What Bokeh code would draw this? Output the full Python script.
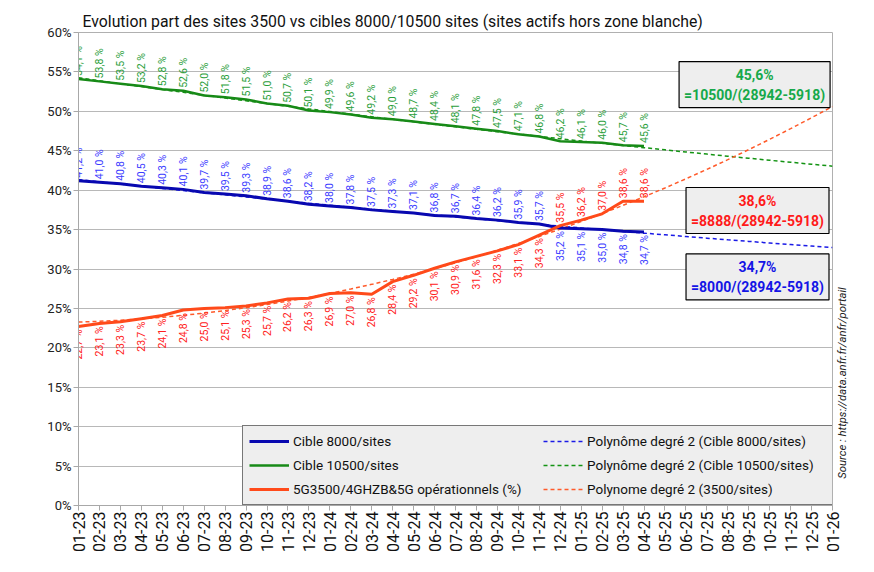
import math
import numpy as np
from bokeh.plotting import figure
from bokeh.models import Range1d, FixedTicker, Legend, LegendItem, Label, LinearAxis
from bokeh.core.properties import value
from bokeh.embed import file_html
from bokeh.resources import INLINE

# ---------------- data ----------------
months = ["01-23", "02-23", "03-23", "04-23", "05-23", "06-23", "07-23", "08-23",
          "09-23", "10-23", "11-23", "12-23", "01-24", "02-24", "03-24", "04-24",
          "05-24", "06-24", "07-24", "08-24", "09-24", "10-24", "11-24", "12-24",
          "01-25", "02-25", "03-25", "04-25", "05-25", "06-25", "07-25", "08-25",
          "09-25", "10-25", "11-25", "12-25", "01-26"]

cible_8000 = [41.2, 41.0, 40.8, 40.5, 40.3, 40.1, 39.7, 39.5, 39.3, 38.9, 38.6, 38.2,
              38.0, 37.8, 37.5, 37.3, 37.1, 36.8, 36.7, 36.4, 36.2, 35.9, 35.7, 35.2,
              35.1, 35.0, 34.8, 34.7]
cible_10500 = [54.1, 53.8, 53.5, 53.2, 52.8, 52.6, 52.0, 51.8, 51.5, 51.0, 50.7, 50.1,
               49.9, 49.6, 49.2, 49.0, 48.7, 48.4, 48.1, 47.8, 47.5, 47.1, 46.8, 46.2,
               46.1, 46.0, 45.7, 45.6]
sites_3500 = [22.7, 23.1, 23.3, 23.7, 24.1, 24.8, 25.0, 25.1, 25.3, 25.7, 26.2, 26.3,
              26.9, 27.0, 26.8, 28.4, 29.2, 30.1, 30.9, 31.6, 32.3, 33.1, 34.3, 35.5,
              36.2, 37.0, 38.6, 38.6]

y_ticks = [0, 5, 10, 15, 20, 25, 30, 35, 40, 45, 50, 55, 60]

title_text = "Evolution part des sites 3500 vs cibles 8000/10500 sites (sites actifs hors zone blanche)"
source_text = "Source : https://data.anfr.fr/anfr/portail"
box_green = "45,6%\n=10500/(28942-5918)"
box_red = "38,6%\n=8888/(28942-5918)"
box_blue = "34,7%\n=8000/(28942-5918)"

# ---------------- style ----------------
FONT = "Roboto"
C_BLUE, C_BLUE_LBL, C_BLUE_D = "#0808b0", "#3b3bff", "#1a1ae6"
C_GREEN, C_GREEN_LBL, C_GREEN_D, C_GREEN_BOX = "#178a17", "#2a9e3a", "#139313", "#16a94a"
C_RED, C_RED_LBL, C_RED_D, C_RED_BOX = "#ff4a1a", "#ff2020", "#ff5a2a", "#ff1a1a"
C_BOX_BLUE = "#1414e6"
SOURCE_POS = 3.4   # where the source note starts, in axis units

n_data = len(cible_8000)
x_data = np.arange(n_data)
x_all = np.arange(len(months))

def trend(vals):
    coeffs = np.polyfit(x_data, np.array(vals), 2)
    return np.polyval(coeffs, x_all)

p = figure(width=858, height=556, x_range=Range1d(0, len(months) - 1), y_range=Range1d(0, 60),
           output_backend="svg", toolbar_location=None,
           min_border_left=78, min_border_right=26, min_border_top=32, min_border_bottom=51)
p.background_fill_color = "white"
p.outline_line_color = "#b0b0b0"

# title
p.title.text = title_text
p.title.align = "left"
p.title.offset = 4
p.title.standoff = 3
p.title.text_font = FONT
p.title.text_font_size = "15.8px"
p.title.text_font_style = "normal"
p.title.text_color = "#111111"

# axes
p.xaxis.ticker = FixedTicker(ticks=list(x_all))
p.xaxis.major_label_overrides = {int(i): m for i, m in zip(x_all, months)}
p.xaxis.major_label_orientation = math.pi / 2
p.xaxis.major_label_text_font = FONT
p.xaxis.major_label_text_font_size = "16px"
p.xaxis.major_label_text_color = "#111111"
p.xaxis.major_label_standoff = 1
p.yaxis.ticker = FixedTicker(ticks=y_ticks)
p.yaxis.major_label_overrides = {t: f"{t}%" for t in y_ticks}
p.yaxis.major_label_text_font = FONT
p.yaxis.major_label_text_font_size = "13px"
p.yaxis.major_label_text_color = "#222222"
p.yaxis.major_label_standoff = 2
for ax in (p.xaxis, p.yaxis):
    ax.axis_line_color = "#a8a8a8"
    ax.major_tick_line_color = "#a8a8a8"
    ax.major_tick_out = 5
    ax.major_tick_in = 0
    ax.minor_tick_line_color = None
p.xgrid.grid_line_color = None
p.ygrid.grid_line_color = "#b8b8b8"
p.ygrid.grid_line_width = 1

# source note: a bare right-side axis whose single tick label carries the text
src_axis = LinearAxis(ticker=FixedTicker(ticks=[SOURCE_POS]),
                      major_label_overrides={SOURCE_POS: source_text},
                      major_label_orientation=math.pi / 2,
                      axis_line_color=None, major_tick_line_color=None, minor_tick_line_color=None,
                      major_tick_out=0, major_tick_in=0, major_label_standoff=10,
                      major_label_text_font=FONT, major_label_text_font_size="11.3px",
                      major_label_text_font_style="italic", major_label_text_color="#222222")
p.add_layout(src_axis, "right")

# trend lines
rb_d = p.line(x_all, trend(cible_8000), line_color=C_BLUE_D, line_width=1.5, line_dash="4 3")
rg_d = p.line(x_all, trend(cible_10500), line_color=C_GREEN_D, line_width=1.5, line_dash="4 3")
rr_d = p.line(x_all, trend(sites_3500), line_color=C_RED_D, line_width=1.5, line_dash="4 3")

# series
rb = p.line(x_data, cible_8000, line_color=C_BLUE, line_width=3)
rg = p.line(x_data, cible_10500, line_color=C_GREEN, line_width=2.5)
rr = p.line(x_data, sites_3500, line_color=C_RED, line_width=3)

# data labels
SPLIT = 23
def fmt(v):
    return f"{v:.1f}".replace(".", ",") + " %"

def labels(vals, color, above_idx):
    for above in (True, False):
        idx = [i for i in range(len(vals)) if (i in above_idx) == above]
        if not idx:
            continue
        p.text(x=[int(i) for i in idx], y=[vals[i] for i in idx], text=[fmt(vals[i]) for i in idx],
               angle=math.pi / 2, text_align="left" if above else "right",
               text_baseline="middle", y_offset=-3 if above else 3,
               text_font=value(FONT), text_font_size="10.5px", text_color=color)

labels(cible_10500, C_GREEN_LBL, set(range(n_data)))
labels(cible_8000, C_BLUE_LBL, set(range(SPLIT)))
labels(sites_3500, C_RED_LBL, set(range(SPLIT, n_data)))

# value boxes
for txt, col, bx, by in ((box_green, C_GREEN_BOX, 32.28, 53.4),
                         (box_red, C_RED_BOX, 32.42, 37.42),
                         (box_blue, C_BOX_BLUE, 32.42, 29.0)):
    p.add_layout(Label(x=bx, y=by, text=txt, text_align="center", text_baseline="middle",
                       text_font=FONT, text_font_size="14px", text_font_style="bold",
                       text_color=col, text_line_height=1.25,
                       background_fill_color="#eeeeee", border_line_color="black",
                       border_line_width=1.2, padding=5))

# legend
items = [LegendItem(label="Cible 8000/sites", renderers=[rb]),
         LegendItem(label="Cible 10500/sites", renderers=[rg]),
         LegendItem(label="5G3500/4GHZB&5G opérationnels (%)", renderers=[rr]),
         LegendItem(label="Polynôme degré 2 (Cible 8000/sites)", renderers=[rb_d]),
         LegendItem(label="Polynôme degré 2 (Cible 10500/sites)", renderers=[rg_d]),
         LegendItem(label="Polynome degré 2 (3500/sites)", renderers=[rr_d])]
legend = Legend(items=items, ncols=2, orientation="vertical", location=(164, 0),
                background_fill_color="#eeeeee", background_fill_alpha=1,
                border_line_color="black", border_line_width=1.2,
                label_text_font=FONT, label_text_font_size="13.5px", label_text_color="#111111",
                glyph_width=40, glyph_height=18, label_height=18, label_width=244,
                label_standoff=4, spacing=6, padding=6, margin=0)
p.add_layout(legend)

open("out.html", "w").write(file_html(p, INLINE))
